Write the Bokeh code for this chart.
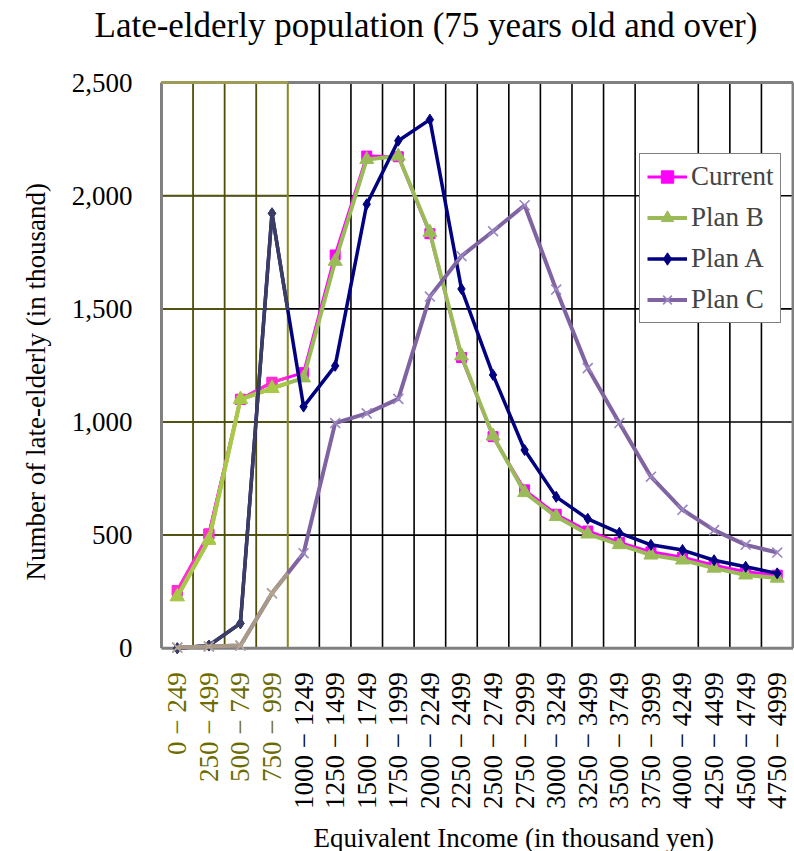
import math
from bokeh.plotting import figure
from bokeh.models import (ColumnDataSource, FixedTicker, NumeralTickFormatter,
                          Legend, LegendItem, Label, Range1d, Title)
from bokeh.core.properties import value
from bokeh.embed import file_html
from bokeh.resources import INLINE

# ---------------- data ----------------
categories = ["0 − 249", "250 − 499", "500 − 749", "750 − 999",
              "1000 − 1249", "1250 − 1499", "1500 − 1749", "1750 − 1999",
              "2000 − 2249", "2250 − 2499", "2500 − 2749", "2750 − 2999",
              "3000 − 3249", "3250 − 3499", "3500 − 3749", "3750 − 3999",
              "4000 − 4249", "4250 − 4499", "4500 − 4749", "4750 − 4999"]
current = [255, 505, 1100, 1175, 1218, 1738, 2175, 2172, 1832, 1285,
           935, 700, 592, 518, 468, 426, 402, 367, 338, 323]
plan_b = [228, 478, 1100, 1148, 1195, 1710, 2160, 2175, 1838, 1292,
          938, 688, 582, 505, 458, 412, 390, 354, 324, 310]
plan_a = [0, 12, 110, 1922, 1068, 1248, 1962, 2243, 2336, 1588,
          1208, 876, 669, 572, 510, 457, 434, 389, 360, 331]
plan_c = [3, 8, 12, 243, 420, 995, 1038, 1102, 1554, 1733,
          1843, 1958, 1585, 1238, 995, 758, 612, 522, 457, 423]
y_ticks = [0, 500, 1000, 1500, 2000, 2500]
highlight_n = 4          # first categories shown in the olive band
missing_boundary = 16    # boundary line that is absent in the original

title_text = "Late-elderly population (75 years old and over)"
x_title = "Equivalent Income (in thousand yen)"
y_title = "Number of late-elderly (in thousand)"

n = len(categories)
xc = [i + 0.5 for i in range(n)]
FONT = "Liberation Serif"

# ---------------- layout geometry (pixels) ----------------
W, H = 794, 851
frame_left = 154
title_h = 48                      # expected height of the title panel
plot_top_px, plot_bottom_px = 83, 648   # pixel rows of y=2500 and y=0
x0_px, x20_px = 156, 792.5
ypp = (plot_bottom_px - plot_top_px) / (y_ticks[-1] - y_ticks[0])
xpp = (x20_px - x0_px) / n
y_start = y_ticks[0] - (H - plot_bottom_px) / ypp
y_end = y_ticks[-1] + (plot_top_px - title_h) / ypp
x_start = -(x0_px - frame_left) / xpp
x_end = n + (W - x20_px) / xpp

p = figure(width=W, height=H, output_backend="svg", toolbar_location=None,
           x_range=Range1d(x_start, x_end), y_range=Range1d(y_start, y_end),
           min_border_left=frame_left, min_border_right=0, min_border_top=0,
           min_border_bottom=0)
p.outline_line_color = None
p.background_fill_color = "white"
p.xgrid.visible = False
p.ygrid.visible = False
p.xaxis.visible = False

# title
p.title.text = title_text
p.title.align = "left"
p.title.offset = 89 - frame_left
p.title.standoff = 6
p.title.text_font = "Times New Roman"
p.title.text_font_size = "35px"
p.title.text_font_style = "normal"
p.title.text_color = "black"

y0, y1 = y_ticks[0], y_ticks[-1]
hy = y_ticks[1:-1]
black_bounds = [b for b in range(highlight_n + 1, n) if b != missing_boundary]

# black grid lines
p.segment(x0=[0] * len(hy), y0=hy, x1=[n] * len(hy), y1=hy,
          line_color="black", line_width=1.6)
p.segment(x0=black_bounds, y0=[y0] * len(black_bounds), x1=black_bounds,
          y1=[y1] * len(black_bounds), line_color="black", line_width=1.6)
# olive band guide lines
p.segment(x0=[0] * len(hy), y0=hy, x1=[highlight_n] * len(hy), y1=hy,
          line_color="#55550e", line_width=1.8)
vb = list(range(1, highlight_n))
p.segment(x0=vb, y0=[y0] * len(vb), x1=vb, y1=[y1] * len(vb),
          line_color="#4e4e06", line_width=1.8)
p.segment(x0=[highlight_n], y0=[y0], x1=[highlight_n], y1=[y1],
          line_color="#8a8a1c", line_width=2)
# plot borders
p.segment(x0=[0, 0, 0, n], y0=[y0, y1, y0, y0], x1=[n, n, 0, n], y1=[y0, y1, y1, y1],
          line_color="#808080", line_width=3)
p.segment(x0=[0], y0=[y1], x1=[highlight_n], y1=[y1],
          line_color="#9c9c58", line_width=3)

series = [
    ("Current", current, "#ff00ff", "#ff30d0", "square", 10, 3),
    ("Plan B", plan_b, "#9bbb59", "#aac848", "triangle", 14, 4),
    ("Plan A", plan_a, "#000080", "#3b3d63", "diamond", 11, 3.5),
    ("Plan C", plan_c, "#8064a2", "#a89a86", "x", 14, 4),
]

items = []
for name, vals, col, dim_col, marker, size, lw in series:
    src = ColumnDataSource(dict(x=xc, y=vals))
    r_line = p.line("x", "y", source=src, line_color=col, line_width=lw)
    if marker == "x":
        r_mark = p.scatter("x", "y", source=src, marker="x", size=size,
                           line_color="#9a86c0", line_width=1.6)
    else:
        r_mark = p.scatter("x", "y", source=src, marker=marker, size=size,
                           fill_color=col, line_color=col)
    # portion inside the olive band
    bx = xc[:highlight_n] + [highlight_n]
    by = vals[:highlight_n] + [(vals[highlight_n - 1] + vals[highlight_n]) / 2]
    p.line(bx, by, line_color=dim_col, line_width=lw)
    if marker == "x":
        p.scatter(xc[:highlight_n], vals[:highlight_n], marker="x", size=size,
                  line_color="#b4a890", line_width=1.6)
    else:
        p.scatter(xc[:highlight_n], vals[:highlight_n], marker=marker, size=size,
                  fill_color=dim_col, line_color=dim_col)
    items.append(LegendItem(label=name, renderers=[r_line, r_mark]))

legend = Legend(items=items, location=(634 - frame_left, H - 323), label_text_font=FONT,
                label_text_font_size="27px", glyph_width=40, glyph_height=31,
                label_height=31, spacing=10, padding=7, margin=0, label_standoff=4,
                border_line_color="black", border_line_width=1.5,
                background_fill_color="white", background_fill_alpha=1)
p.add_layout(legend)

# y axis
ya = p.yaxis[0]
ya.ticker = FixedTicker(ticks=y_ticks)
ya.formatter = NumeralTickFormatter(format="0,0")
ya.major_label_text_font = FONT
ya.major_label_text_font_size = "27px"
ya.major_label_text_color = "black"
ya.major_tick_out = 0
ya.major_tick_in = 0
ya.minor_tick_out = 0
ya.minor_tick_in = 0
ya.major_label_standoff = 27
ya.axis_line_color = None

p.add_layout(Title(text=y_title, align="left", offset=H - 580, vertical_align="bottom",
                   standoff=36, text_font="'Liberation Serif'", text_font_size="27px",
                   text_font_style="normal", text_color="black"), "left")

# x tick labels (category names) below the x axis line
p.text(x=xc[highlight_n:], y=[y0] * (n - highlight_n), text=categories[highlight_n:],
       angle=math.pi / 2, text_align="right", text_baseline="middle", y_offset=24,
       text_font=value(FONT), text_font_size=value("27px"), text_color="black")
p.text(x=xc[:highlight_n], y=[y0] * highlight_n, text=categories[:highlight_n],
       angle=math.pi / 2, text_align="right", text_baseline="middle", y_offset=24,
       text_font=value(FONT), text_font_size=value("27px"), text_color="#6b6b00")

# x title
p.add_layout(Label(x=308 - frame_left, y=H - 837, x_units="screen", y_units="screen",
                   text=x_title, text_font=FONT, text_font_size="27px",
                   text_align="left", text_baseline="alphabetic", text_color="black"))

open("out.html", "w").write(file_html(p, INLINE))
